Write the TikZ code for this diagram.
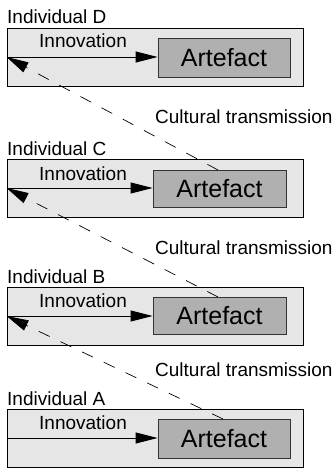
\documentclass[tikz,border=0pt]{standalone}
\usepackage{fontspec}
\setmainfont{Liberation Sans}
\usetikzlibrary{arrows.meta}
\definecolor{outerfill}{HTML}{E6E6E6}
\definecolor{artfill}{HTML}{B0B0B0}
\tikzset{
  outerbox/.style={draw=black, line width=0.9pt, fill=outerfill, minimum width=296pt, minimum height=58pt, inner sep=0pt},
  artbox/.style={draw=black!80, line width=0.9pt, fill=artfill, minimum width=132pt, minimum height=38pt, inner sep=0pt, font=\fontsize{25}{28}\selectfont},
  lbl/.style={inner sep=0pt, font=\fontsize{19}{22}\selectfont},
  innarrow/.style={line width=0.9pt, -{Triangle[length=22pt,width=11pt]}},
  transarrow/.style={line width=0.7pt, dash pattern=on 12pt off 12pt, -{Triangle[length=22pt,width=11pt]}}
}
\begin{document}
\begin{tikzpicture}[x=1pt,y=-1pt]
\useasboundingbox (0,0) rectangle (335,468);
% Individual D
\node[outerbox] (boxD) at (155,57) {};
\node[artbox, minimum width=132pt, minimum height=39pt] (artD) at (224,57.5) {Artefact};
\node[lbl, anchor=base west] (indD) at (7,24) {Individual D};
\node[lbl, anchor=base] (innD) at (83,48) {Innovation};
\draw[innarrow] (boxD.west) -- (boxD.west -| artD.west);
% Individual C
\node[outerbox] (boxC) at (155,188) {};
\node[artbox, minimum width=133pt, minimum height=37pt] (artC) at (219.5,188.5) {Artefact};
\node[lbl, anchor=base west] (indC) at (7,155) {Individual C};
\node[lbl, anchor=base] (innC) at (83,180) {Innovation};
\draw[innarrow] (boxC.west) -- (boxC.west -| artC.west);
% Individual B
\node[outerbox] (boxB) at (155,316) {};
\node[artbox, minimum width=133pt, minimum height=37pt] (artB) at (219.5,315.5) {Artefact};
\node[lbl, anchor=base west] (indB) at (7,283) {Individual B};
\node[lbl, anchor=base] (innB) at (83,307) {Innovation};
\draw[innarrow] (boxB.west) -- (boxB.west -| artB.west);
% Individual A
\node[outerbox] (boxA) at (155,438) {};
\node[artbox, minimum width=132pt, minimum height=39pt] (artA) at (224,438.5) {Artefact};
\node[lbl, anchor=base west] (indA) at (7,405) {Individual A};
\node[lbl, anchor=base] (innA) at (83,429) {Innovation};
\draw[innarrow] (boxA.west) -- (boxA.west -| artA.west);
% Cultural transmission
\node[lbl, anchor=base west] (ct1) at (155,124) {Cultural transmission};
\node[lbl, anchor=base west] (ct2) at (155,254) {Cultural transmission};
\node[lbl, anchor=base west] (ct3) at (155,376) {Cultural transmission};
\coordinate (tC) at (218,170);
\coordinate (tB) at (218,297);
\coordinate (tA) at (223,419);
\draw[transarrow] (tC) -- (boxD.west);
\draw[transarrow] (tB) -- (boxC.west);
\draw[transarrow] (tA) -- (boxB.west);
\end{tikzpicture}
\end{document}
